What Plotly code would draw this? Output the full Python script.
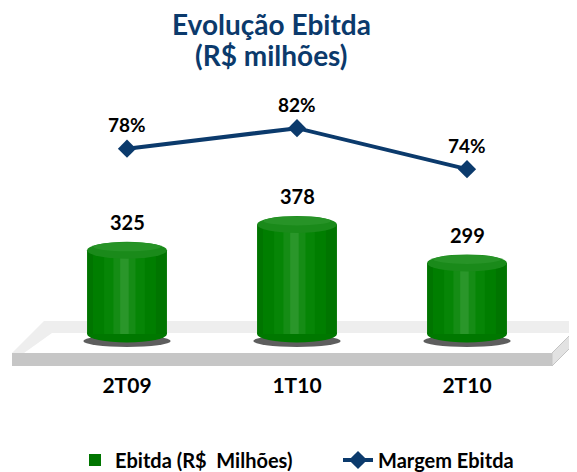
import plotly.graph_objects as go

# ---- data ----
categories = ["2T09", "1T10", "2T10"]
ebitda = [325, 378, 299]
margem = [78, 82, 74]
ebitda_labels = ["325", "378", "299"]
margem_labels = ["78%", "82%", "74%"]
title_lines = ["Evolução Ebitda", "(R$ milhões)"]

# ---- layout constants (page has an 8px body margin) ----
OFF = 8
W, H = 577 - OFF, 472 - OFF
ML, MR, MT, MB = 42 - OFF, 25, 90 - OFF, 138
PW, PH = W - ML - MR, H - MT - MB
FONT = "Lato"
NAVY = "#0b3a6c"
BAR_W = 0.47


def px(x):
    """screen pixel x -> paper coordinate"""
    return (x - OFF - ML) / PW


def py(y):
    """screen pixel y -> paper coordinate"""
    return (H - MB - (y - OFF)) / PH


def poly(points):
    s = "M " + " L ".join(f"{px(x):.5f},{py(y):.5f}" for x, y in points)
    return s + " Z"


fig = go.Figure()

# cylinder body built from layered bars (lighter towards the centre)
layers = [(BAR_W, "#007500"), (0.37, "#007e00"), (0.24, "#068506"),
          (0.13, "#158c15"), (0.05, "#2a962a")]
shift = -0.015
for k, (w, col) in enumerate(layers):
    fig.add_trace(go.Bar(
        x=categories, y=ebitda, width=w,
        offset=-w / 2 + (shift if k else 0),
        marker=dict(color=col, line=dict(width=0)),
        name="Ebitda (R$  Milhões)", showlegend=(k == 0), legend="legend",
        hoverinfo="skip" if k else None, yaxis="y"))

fig.add_trace(go.Scatter(
    x=categories, y=margem, yaxis="y2", mode="lines+markers",
    name="Margem Ebitda", legend="legend2",
    line=dict(color=NAVY, width=4),
    marker=dict(symbol="diamond", size=14, color=NAVY)))

shapes = []
# 3D floor platform (decoration, paper coords)
shapes.append(dict(type="path", xref="paper", yref="paper", layer="below",
                   path=poly([(12, 353), (44, 321), (590, 321), (558, 353)]),
                   fillcolor="#ffffff", line=dict(width=0)))
shapes.append(dict(type="path", xref="paper", yref="paper", layer="below",
                   path=poly([(12, 353), (44, 321), (590, 321), (578, 333),
                              (52, 333), (24, 353)]),
                   fillcolor="#eeeeee", line=dict(width=0)))
shapes.append(dict(type="path", xref="paper", yref="paper", layer="below",
                   path=poly([(12, 353), (552, 353), (552, 366), (12, 366)]),
                   fillcolor="#c6c6c6", line=dict(width=0)))
shapes.append(dict(type="path", xref="paper", yref="paper", layer="below",
                   path=poly([(552, 353), (584, 321), (584, 334), (552, 366)]),
                   fillcolor="#e2e2e2", line=dict(color="#c4c4c4", width=1)))

for i, v in enumerate(ebitda):
    # shadow + rounded bottom
    shapes.append(dict(type="circle", xref="x", yref="paper", layer="below",
                       xsizemode="scaled", ysizemode="pixel", yanchor=0,
                       x0=i - 0.257, x1=i + 0.257, y0=-13, y1=-1,
                       fillcolor="#5e5e5e", line=dict(width=0)))
    shapes.append(dict(type="circle", xref="x", yref="paper", layer="below",
                       xsizemode="scaled", ysizemode="pixel", yanchor=0,
                       x0=i - BAR_W / 2, x1=i + BAR_W / 2, y0=-8.5, y1=8.5,
                       fillcolor="#007800", line=dict(width=0)))
    # top cap
    shapes.append(dict(type="circle", xref="x", yref="y", layer="above",
                       xsizemode="scaled", ysizemode="pixel", yanchor=v,
                       x0=i - BAR_W / 2, x1=i + BAR_W / 2, y0=-8.5, y1=8.5,
                       fillcolor="#1a8a1a", line=dict(width=0)))
    shapes.append(dict(type="circle", xref="x", yref="y", layer="above",
                       xsizemode="scaled", ysizemode="pixel", yanchor=v,
                       x0=i - BAR_W * 0.42, x1=i + BAR_W * 0.42, y0=-1, y1=8,
                       fillcolor="#279327", line=dict(width=0)))

annotations = []
for i, (v, t) in enumerate(zip(ebitda, ebitda_labels)):
    annotations.append(dict(x=i, y=v, xref="x", yref="y", text=t,
                            showarrow=False, yanchor="middle", yshift=28,
                            font=dict(family=FONT, size=20, color="#000000",
                                      weight="bold")))
for i, (v, t) in enumerate(zip(margem, margem_labels)):
    annotations.append(dict(x=i, y=v, xref="x", yref="y2", text=t,
                            showarrow=False, yanchor="middle", yshift=24,
                            font=dict(family=FONT, size=19, color="#000000",
                                      weight="bold")))
# two-line title as separate annotations for tighter line spacing
for t, yc in zip(title_lines, [24, 55]):
    annotations.append(dict(x=px(271), y=py(yc), xref="paper", yref="paper",
                            text=t, showarrow=False, xanchor="center",
                            yanchor="middle",
                            font=dict(family=FONT, size=28, color=NAVY,
                                      weight="bold")))

legend_font = dict(family=FONT, size=20, color="#000000", weight="bold")
fig.update_layout(
    width=W, height=H,
    margin=dict(l=ML, r=MR, t=MT, b=MB, pad=0, autoexpand=False),
    paper_bgcolor="#ffffff", plot_bgcolor="rgba(0,0,0,0)",
    barmode="overlay",
    xaxis=dict(type="category", categoryorder="array",
               categoryarray=categories, range=[-0.5, 2.5],
               showgrid=False, zeroline=False, showline=False, ticks="",
               ticklabelstandoff=37,
               tickfont=dict(family=FONT, size=21, color="#000000",
                             weight="bold")),
    yaxis=dict(range=[153, 654], visible=False, showgrid=False),
    yaxis2=dict(range=[41.84, 89.45], overlaying="y", side="right",
                visible=False, showgrid=False),
    shapes=shapes, annotations=annotations,
    legend=dict(orientation="h", x=px(75), xanchor="left",
                y=py(460), yanchor="middle", font=legend_font,
                bgcolor="rgba(0,0,0,0)"),
    legend2=dict(orientation="h", x=px(338), xanchor="left",
                 y=py(460), yanchor="middle", font=legend_font,
                 bgcolor="rgba(0,0,0,0)"),
    showlegend=True,
)

fig.write_html("out.html")
